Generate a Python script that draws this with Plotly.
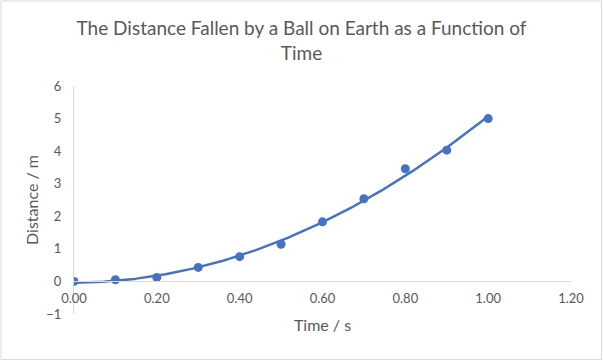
import numpy as np
import plotly.graph_objects as go

time_s = [0.0, 0.1, 0.2, 0.3, 0.4, 0.5, 0.6, 0.7, 0.8, 0.9, 1.0]
distance_m = [0.0, 0.05, 0.12, 0.43, 0.76, 1.14, 1.83, 2.54, 3.46, 4.03, 5.0]
x_ticks = [0.0, 0.2, 0.4, 0.6, 0.8, 1.0, 1.2]
y_ticks = [-1, 0, 1, 2, 3, 4, 5, 6]

# Excel-style 2nd-order polynomial trendline fitted to the data
coef = np.polyfit(time_s, distance_m, 2)
trend_x = np.linspace(min(time_s), max(time_s), 200)
trend_y = np.polyval(coef, trend_x)

BLUE = "#4472C4"
GREY_TXT = "#595959"
GREY_LINE = "#D9D9D9"
CLEAR = "rgba(0,0,0,0)"
FONT = "Lato"

W, H = 603, 361
L, R, T, B = 74, 32, 86, 47
pw, ph = W - L - R, H - T - B

fig = go.Figure()
fig.add_trace(go.Scatter(x=trend_x, y=trend_y, mode="lines",
                         line=dict(color=BLUE, width=2.5), hoverinfo="skip",
                         showlegend=False))
fig.add_trace(go.Scatter(x=time_s, y=distance_m, mode="markers",
                         marker=dict(color=BLUE, size=9), showlegend=False))

fig.update_layout(
    width=W, height=H,
    margin=dict(l=L, r=R, t=T, b=B, pad=0),
    paper_bgcolor="white", plot_bgcolor="white",
    font=dict(family=FONT, color=GREY_TXT, size=13),
    title=dict(text="The Distance Fallen by a Ball on Earth as a Function of<br>Time",
               x=0.5, xanchor="center", y=1 - 35 / H, yanchor="middle",
               font=dict(size=19, color=GREY_TXT, family=FONT)),
    xaxis=dict(range=[0, 1.2], tickvals=x_ticks, tickformat=".2f",
               showgrid=False, zeroline=False, showline=True,
               linecolor=GREY_LINE, linewidth=1,
               ticks="outside", ticklen=5, tickcolor=CLEAR,
               anchor="free", position=1 / 7,
               tickfont=dict(size=13, color=GREY_TXT),
               title=dict(text="Time / s", font=dict(size=16, color=GREY_TXT), standoff=14)),
    yaxis=dict(range=[-1, 6], tickvals=y_ticks, showgrid=False, zeroline=False,
               showline=True, linecolor=GREY_LINE, linewidth=1,
               ticks="outside", ticklen=9, tickcolor=CLEAR,
               tickfont=dict(size=13, color=GREY_TXT),
               title=dict(text="Distance / m", font=dict(size=16, color=GREY_TXT), standoff=3)),
)

# Chart border (Excel chart area outline)
fig.add_shape(type="rect", xref="paper", yref="paper",
              x0=(1 - L) / pw, x1=(W - 1.5 - L) / pw,
              y0=-(B - 1.5) / ph, y1=(H - 1 - B) / ph,
              line=dict(color=GREY_LINE, width=1), fillcolor=CLEAR, layer="below")

fig.write_html("out.html")
